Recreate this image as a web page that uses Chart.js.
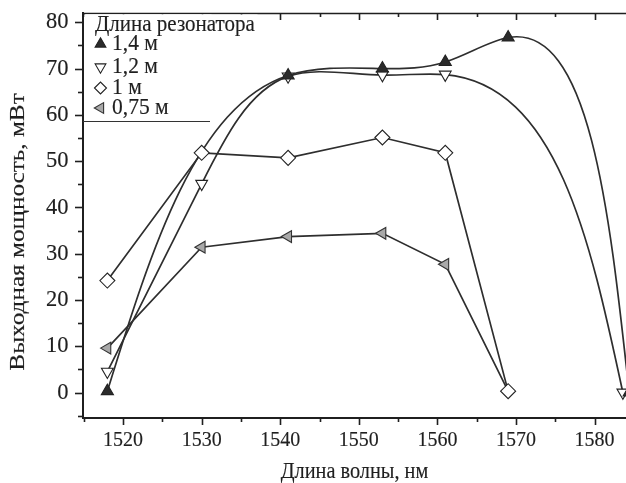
<!DOCTYPE html>
<html>
<head>
<meta charset="utf-8">
<script src="https://cdn.jsdelivr.net/npm/chart.js@4.4.1/dist/chart.umd.min.js"></script>
<style>
  html, body { margin: 0; padding: 0; background: #fff; overflow: hidden; }
  #wrap { width: 626px; height: 483px; }
</style>
</head>
<body>
<div id="wrap"><canvas id="c" width="626" height="483"></canvas></div>
<script>
// Output power of the fibre laser versus wavelength for four resonator lengths

const seriesLabels = ['1,4 м', '1,2 м', '1 м', '0,75 м'];

const wavelength14 = [1518, 1541, 1553, 1561, 1569, 1584.4];
const power14      = [0.3, 68.5, 70.0, 71.4, 76.7, 0];

const wavelength12 = [1518, 1530, 1541, 1553, 1561, 1583.6];
const power12      = [4.5, 45.1, 68.3, 68.6, 68.7, 0];

const wavelength10 = [1518, 1530, 1541, 1553, 1561, 1569];
const power10      = [24.2, 51.8, 50.7, 55.1, 51.8, 0.3];

const wavelength075 = [1518, 1530, 1541, 1553, 1561, 1569];
const power075      = [9.6, 31.4, 33.7, 34.4, 27.7, 0.3];

const xTickValues = [1520, 1530, 1540, 1550, 1560, 1570, 1580];
const yTickValues = [0, 10, 20, 30, 40, 50, 60, 70, 80];

const legendTitle = 'Длина резонатора';
const xAxisTitle = 'Длина волны, нм';
const yAxisTitle = 'Выходная мощность, мВт';

const INK = '#1f1f1f';
const LINE = '#2e2e2e';
const FONT = '"Liberation Serif", "Times New Roman", serif';

function pairs(xs, ys) { return xs.map((x, i) => ({ x, y: ys[i] })); }

// First derivatives of a natural cubic spline through (t[i], v[i])
function splineSlopes(t, v) {
  const n = t.length;
  const h = [];
  for (let i = 0; i < n - 1; i++) h.push(t[i + 1] - t[i]);
  const M = new Array(n).fill(0);
  if (n > 2) {
    const a = [], b = [], c = [], d = [];
    for (let i = 1; i < n - 1; i++) {
      a.push(h[i - 1]);
      b.push(2 * (h[i - 1] + h[i]));
      c.push(h[i]);
      d.push(6 * ((v[i + 1] - v[i]) / h[i] - (v[i] - v[i - 1]) / h[i - 1]));
    }
    const m = b.length;
    for (let i = 1; i < m; i++) {
      const w = a[i] / b[i - 1];
      b[i] -= w * c[i - 1];
      d[i] -= w * d[i - 1];
    }
    const sol = new Array(m);
    sol[m - 1] = d[m - 1] / b[m - 1];
    for (let i = m - 2; i >= 0; i--) sol[i] = (d[i] - c[i] * sol[i + 1]) / b[i];
    for (let i = 1; i < n - 1; i++) M[i] = sol[i - 1];
  }
  const D = [];
  for (let i = 0; i < n - 1; i++) D.push((v[i + 1] - v[i]) / h[i] - h[i] * (2 * M[i] + M[i + 1]) / 6);
  D.push((v[n - 1] - v[n - 2]) / h[n - 2] + h[n - 2] * (M[n - 2] + 2 * M[n - 1]) / 6);
  return D;
}

// Smooth parametric spline through the points of the chosen datasets;
// knot spacing is chord length raised to the dataset's exponent
const smoothCurves = {
  id: 'smoothCurves',
  beforeDatasetDraw(chart, args, opts) {
    const alphas = opts.alphas || {};
    if (!(args.index in alphas)) return;
    const line = args.meta.dataset;
    const pts = args.meta.data;
    if (!line || pts.length < 3) return;
    if (typeof line.updateControlPoints === 'function') line.updateControlPoints(chart.chartArea, 'x');
    const n = pts.length;
    const alpha = alphas[args.index];
    const t = [0];
    for (let i = 1; i < n; i++) {
      const d = Math.hypot(pts[i].x - pts[i - 1].x, pts[i].y - pts[i - 1].y);
      t.push(t[i - 1] + Math.pow(d, alpha));
    }
    const dx = splineSlopes(t, pts.map(p => p.x));
    const dy = splineSlopes(t, pts.map(p => p.y));
    for (let i = 0; i < n; i++) {
      const hPrev = i > 0 ? t[i] - t[i - 1] : 0;
      const hNext = i < n - 1 ? t[i + 1] - t[i] : 0;
      pts[i].cp1x = pts[i].x - dx[i] * hPrev / 3;
      pts[i].cp1y = pts[i].y - dy[i] * hPrev / 3;
      pts[i].cp2x = pts[i].x + dx[i] * hNext / 3;
      pts[i].cp2y = pts[i].y + dy[i] * hNext / 3;
    }
    line._pointsUpdated = true;
    line._path = undefined;
  }
};

function drawText(ctx, str, x, y, size, align, stretch, vertical) {
  ctx.save();
  ctx.translate(x, y);
  if (vertical) { ctx.rotate(-Math.PI / 2); ctx.scale(stretch, 1); }
  else { ctx.scale(1, stretch); }
  ctx.font = size + 'px ' + FONT;
  ctx.textAlign = align;
  ctx.textBaseline = 'middle';
  ctx.fillStyle = INK;
  ctx.strokeStyle = INK;
  ctx.lineWidth = 0.15;
  ctx.fillText(str, 0, 0);
  ctx.strokeText(str, 0, 0);
  ctx.restore();
}

function drawMarker(ctx, kind, x, y, r, fill, stroke) {
  ctx.save();
  ctx.beginPath();
  if (kind === 'diamond') {
    ctx.moveTo(x - r, y); ctx.lineTo(x, y - r); ctx.lineTo(x + r, y); ctx.lineTo(x, y + r);
  } else {
    for (let k = 0; k < 3; k++) {
      const a = kind * Math.PI / 180 + k * 2 * Math.PI / 3;
      const px = x + Math.sin(a) * r, py = y - Math.cos(a) * r;
      if (k === 0) ctx.moveTo(px, py); else ctx.lineTo(px, py);
    }
  }
  ctx.closePath();
  ctx.fillStyle = fill;
  ctx.fill();
  ctx.lineWidth = 1.1;
  ctx.strokeStyle = stroke;
  ctx.stroke();
  ctx.restore();
}

const legendMarkers = [
  { kind: 0,         fill: '#2b2b2b', stroke: '#222' },
  { kind: 180,       fill: '#ffffff', stroke: '#222' },
  { kind: 'diamond', fill: '#ffffff', stroke: '#222' },
  { kind: 270,       fill: '#a9a9a9', stroke: '#333' }
];

// Axis ticks, tick labels, titles and the legend box
const axisFrame = {
  id: 'axisFrame',
  afterDraw(chart) {
    const ctx = chart.ctx;
    const xs = chart.scales.x, ys = chart.scales.y, ca = chart.chartArea;
    ctx.save();
    ctx.strokeStyle = INK;
    ctx.lineCap = 'butt';

    // top frame line
    ctx.lineWidth = 1.3;
    ctx.beginPath();
    ctx.moveTo(ca.left, ca.top + 0.5);
    ctx.lineTo(ca.right, ca.top + 0.5);
    ctx.stroke();

    ctx.lineWidth = 1.6;
    for (let v = 1515; v <= xs.max + 1e-6; v += 5) {
      const px = Math.round(xs.getPixelForValue(v)) + 0.5;
      const major = v % 10 === 0;
      const len = major ? 7 : 4;
      ctx.beginPath();
      ctx.moveTo(px, ca.bottom); ctx.lineTo(px, ca.bottom + len);
      ctx.moveTo(px, ca.top); ctx.lineTo(px, ca.top + len);
      ctx.stroke();
    }
    for (let v = -5; v <= 80; v += 5) {
      const py = Math.round(ys.getPixelForValue(v)) + 0.5;
      const major = v % 10 === 0;
      const len = major ? 8 : 5;
      ctx.beginPath();
      ctx.moveTo(ca.left - len, py); ctx.lineTo(ca.left, py);
      ctx.stroke();
    }
    ctx.restore();

    xTickValues.forEach(v => drawText(ctx, String(v), xs.getPixelForValue(v), 440.5, 20, 'center', 1.1));
    yTickValues.forEach(v => drawText(ctx, String(v), 68.5, ys.getPixelForValue(v), 22.5, 'right', 1.05));

    drawText(ctx, xAxisTitle, (ca.left + ca.right) / 2, 472, 20.3, 'center', 1.12);
    drawText(ctx, yAxisTitle, 18, 232, 21, 'center', 1.2, true);

    // legend box
    ctx.save();
    ctx.fillStyle = '#fff';
    ctx.fillRect(ca.left + 1.5, ca.top + 1.5, 256 - ca.left, 22);
    ctx.fillRect(ca.left + 1.5, ca.top + 1.5, 210 - ca.left, 107);
    ctx.strokeStyle = '#333';
    ctx.lineWidth = 1.2;
    ctx.beginPath();
    ctx.moveTo(ca.left, 121.5); ctx.lineTo(210, 121.5);
    ctx.stroke();
    ctx.restore();

    drawText(ctx, legendTitle, 95, 24.5, 21, 'left', 1.1);
    const rows = [44, 67, 88, 108];
    seriesLabels.forEach((lab, i) => {
      const m = legendMarkers[i];
      drawMarker(ctx, m.kind, 100.5, rows[i], m.kind === 'diamond' ? 6 : 6.2, m.fill, m.stroke);
      drawText(ctx, lab, 112, rows[i], 21.5, 'left', 1.1);
    });
  }
};

const common = { borderColor: LINE, borderWidth: 1.7, pointBorderWidth: 1.1, pointHoverRadius: 0 };

new Chart(document.getElementById('c'), {
  type: 'line',
  data: {
    datasets: [
      Object.assign({}, common, {
        label: seriesLabels[0], data: pairs(wavelength14, power14), order: 1,
        pointStyle: 'triangle', pointRadius: 7, pointBackgroundColor: '#2b2b2b', pointBorderColor: '#222',
        tension: 0.4
      }),
      Object.assign({}, common, {
        label: seriesLabels[1], data: pairs(wavelength12, power12), order: 2,
        pointStyle: 'triangle', pointRotation: 180, pointRadius: 6.8, pointBackgroundColor: '#fff', pointBorderColor: '#222',
        tension: 0.4
      }),
      Object.assign({}, common, {
        label: seriesLabels[2], data: pairs(wavelength10, power10), order: 0,
        pointStyle: 'rectRot', pointRadius: 7.5, pointBackgroundColor: '#fff', pointBorderColor: '#222',
        tension: 0
      }),
      Object.assign({}, common, {
        label: seriesLabels[3], data: pairs(wavelength075, power075), order: 3,
        pointStyle: 'triangle', pointRotation: 270, pointRadius: [6.8, 6.8, 6.8, 6.8, 6.8, 0],
        pointBackgroundColor: '#a9a9a9', pointBorderColor: '#333',
        tension: 0
      })
    ]
  },
  options: {
    responsive: false,
    devicePixelRatio: 1,
    animation: false,
    events: [],
    layout: { autoPadding: false, padding: { top: 13, left: 0, right: 0, bottom: 0 } },
    plugins: {
      legend: { display: false },
      tooltip: { enabled: false },
      smoothCurves: { alphas: { 0: 0.85, 1: 1.0 } }
    },
    scales: {
      x: {
        type: 'linear', min: 1514.9, max: 1584,
        ticks: { display: false },
        grid: { display: false },
        border: { display: true, color: INK, width: 2 },
        afterFit(scale) { scale.height = 65; }
      },
      y: {
        type: 'linear', min: -5.5, max: 82,
        ticks: { display: false },
        grid: { display: false },
        border: { display: true, color: INK, width: 2 },
        afterFit(scale) { scale.width = 83; }
      }
    }
  },
  plugins: [smoothCurves, axisFrame]
});
</script>
</body>
</html>
